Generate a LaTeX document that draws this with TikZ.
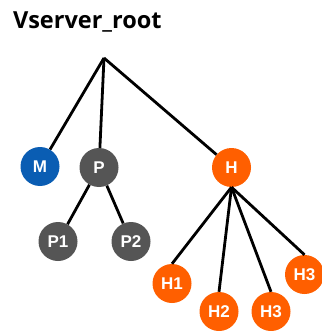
\documentclass[tikz,border=0pt]{standalone}
\usepackage{fontspec}
\setmainfont{Liberation Sans}
\newfontfamily\titlefont{Open Sans}
\definecolor{mblue}{HTML}{0A5DB3}
\definecolor{pgray}{HTML}{555555}
\definecolor{horange}{HTML}{FF5F00}
\begin{document}
\begin{tikzpicture}[x=1pt,y=-1pt,
  leaf/.style={circle,minimum size=39pt,inner sep=0pt,text=white,
    font=\fontsize{17}{17}\selectfont\bfseries},
  mnode/.style={leaf,fill=mblue},
  pnode/.style={leaf,fill=pgray},
  hnode/.style={leaf,fill=horange},
  edge/.style={line width=2.8pt,black}]
\useasboundingbox (0,0) rectangle (321,331);
\node[anchor=base west,inner sep=0pt,font=\titlefont\fontsize{23.5}{23.5}\selectfont\bfseries] (title) at (13,29) {Vserver\_root};
\coordinate (root) at (104,58);
\node[mnode] (M) at (40,166.5) {M};
\node[pnode] (P) at (99,167.5) {P};
\node[hnode] (H) at (231.5,167.5) {H};
\node[pnode] (P1) at (58,241.5) {P1};
\node[pnode] (P2) at (131,241.5) {P2};
\node[hnode] (H1) at (172,283.5) {H1};
\node[hnode] (H2) at (219,311.5) {H2};
\node[hnode] (H3) at (271,311.5) {H3};
\node[hnode] (H3b) at (304.5,274.5) {H3};
\draw[edge] (root) -- (M);
\draw[edge] (root) -- (P);
\draw[edge] (root) -- (H);
\draw[edge] (P) -- (P1);
\draw[edge] (P) -- (P2);
\draw[edge] (H.south) -- (H1.north);
\draw[edge] (H.south) -- (H2.north);
\draw[edge] (H.south) -- (H3.north);
\draw[edge] (H.south) -- (H3b.north);
\end{tikzpicture}
\end{document}
